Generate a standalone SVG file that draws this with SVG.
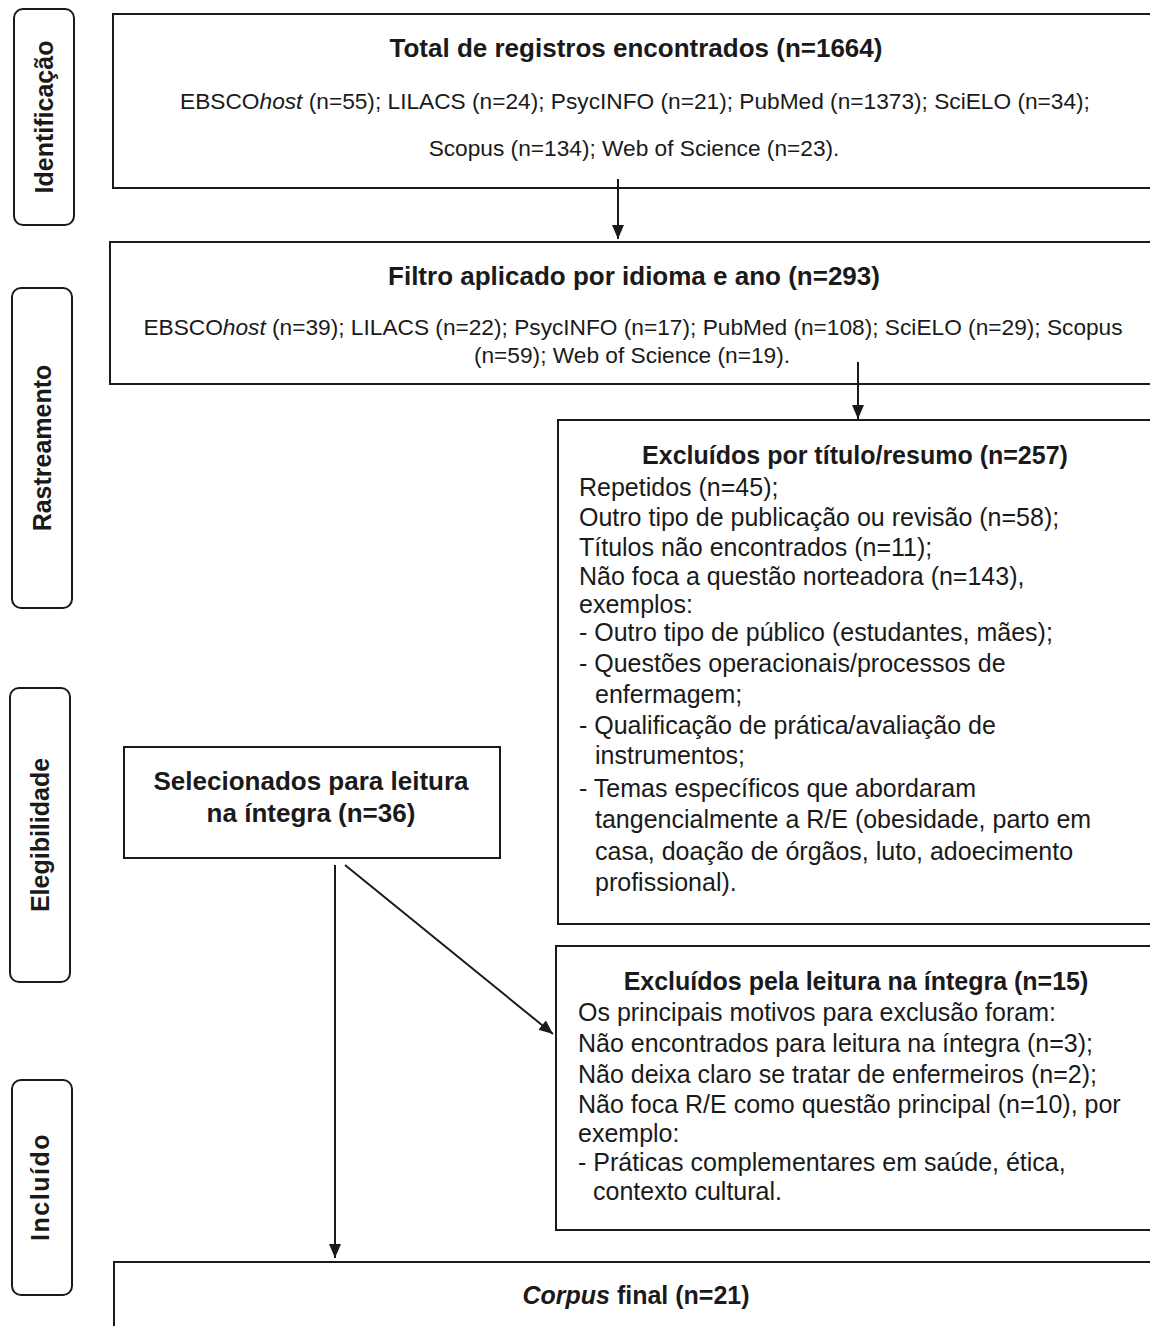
<svg xmlns="http://www.w3.org/2000/svg" width="1150" height="1326" viewBox="0 0 1150 1326">
<defs>
<marker id="ah" markerWidth="13" markerHeight="16" refX="14" refY="8" orient="auto" markerUnits="userSpaceOnUse">
<path d="M0,2 L14,8 L0,14 Z" fill="#1a1a1a"/>
</marker>
</defs>
<style>
.box{fill:#fff;stroke:#1a1a1a;stroke-width:2}
.side{fill:#fff;stroke:#1a1a1a;stroke-width:2}
.t{font-family:"Liberation Sans",Arial,sans-serif;fill:#1a1a1a}
.b{font-weight:bold;font-size:26px}
.b2{font-weight:bold;font-size:25px}
.r{font-size:25px}
.s{font-size:22.7px}
.sl{font-family:"Liberation Sans",Arial,sans-serif;font-weight:bold;font-size:25px;fill:#1a1a1a}
.c{stroke:#1a1a1a;stroke-width:2;fill:none}
</style>
<rect width="1150" height="1326" fill="#fff"/>
<g id="side-identificacao"><rect class="side" x="14" y="9" width="60" height="216" rx="9"/><text class="sl" transform="translate(53,117) rotate(-90)" text-anchor="middle">Identificação</text></g>
<g id="side-rastreamento"><rect class="side" x="12" y="288" width="60" height="320" rx="9"/><text class="sl" transform="translate(51,448) rotate(-90)" text-anchor="middle">Rastreamento</text></g>
<g id="side-elegibilidade"><rect class="side" x="10" y="688" width="60" height="294" rx="9"/><text class="sl" transform="translate(49,835) rotate(-90)" text-anchor="middle">Elegibilidade</text></g>
<g id="side-incluido"><rect class="side" x="12" y="1080" width="60" height="215" rx="9"/><text class="sl" transform="translate(49,1187) rotate(-90)" text-anchor="middle" font-size="22" letter-spacing="1.5">Incluído</text></g>

<g id="total">
<rect class="box" x="113" y="14" width="1050" height="174"/>
<text class="t b" x="636" y="57" text-anchor="middle">Total de registros encontrados (n=1664)</text>
<text class="t s" x="635" y="109" text-anchor="middle">EBSCO<tspan font-style="italic">host</tspan> (n=55); LILACS (n=24); PsycINFO (n=21); PubMed (n=1373); SciELO (n=34);</text>
<text class="t s" x="634" y="156" text-anchor="middle">Scopus (n=134); Web of Science (n=23).</text>
</g>
<g id="filtro">
<rect class="box" x="110" y="242" width="1053" height="142"/>
<text class="t b" x="634" y="285" text-anchor="middle">Filtro aplicado por idioma e ano (n=293)</text>
<text class="t s" x="633" y="335" text-anchor="middle">EBSCO<tspan font-style="italic">host</tspan> (n=39); LILACS (n=22); PsycINFO (n=17); PubMed (n=108); SciELO (n=29); Scopus</text>
<text class="t s" x="632" y="363" text-anchor="middle">(n=59); Web of Science (n=19).</text>
</g>
<g id="excluidos-titulo">
<rect class="box" x="558" y="420" width="605" height="504"/>
<text class="t b2" x="855" y="464" text-anchor="middle">Excluídos por título/resumo (n=257)</text>
<text class="t r" x="579" y="496">Repetidos (n=45);</text>
<text class="t r" x="579" y="526">Outro tipo de publicação ou revisão (n=58);</text>
<text class="t r" x="579" y="556">Títulos não encontrados (n=11);</text>
<text class="t r" x="579" y="585">Não foca a questão norteadora (n=143),</text>
<text class="t r" x="579" y="613">exemplos:</text>
<text class="t r" x="579" y="641">- Outro tipo de público (estudantes, mães);</text>
<text class="t r" x="579" y="672">- Questões operacionais/processos de</text>
<text class="t r" x="595" y="703">enfermagem;</text>
<text class="t r" x="579" y="734">- Qualificação de prática/avaliação de</text>
<text class="t r" x="595" y="764">instrumentos;</text>
<text class="t r" x="579" y="797">- Temas específicos que abordaram</text>
<text class="t r" x="595" y="828">tangencialmente a R/E (obesidade, parto em</text>
<text class="t r" x="595" y="860">casa, doação de órgãos, luto, adoecimento</text>
<text class="t r" x="595" y="891">profissional).</text>
</g>
<g id="selecionados">
<rect class="box" x="124" y="747" width="376" height="111"/>
<text class="t b" x="311" y="790" text-anchor="middle">Selecionados para leitura</text>
<text class="t b" x="311" y="822" text-anchor="middle">na íntegra (n=36)</text>
</g>
<g id="excluidos-integra">
<rect class="box" x="556" y="946" width="607" height="284"/>
<text class="t b2" x="856" y="990" text-anchor="middle">Excluídos pela leitura na íntegra (n=15)</text>
<text class="t r" x="578" y="1021">Os principais motivos para exclusão foram:</text>
<text class="t r" x="578" y="1052">Não encontrados para leitura na íntegra (n=3);</text>
<text class="t r" x="578" y="1083">Não deixa claro se tratar de enfermeiros (n=2);</text>
<text class="t r" x="578" y="1113">Não foca R/E como questão principal (n=10), por</text>
<text class="t r" x="578" y="1142">exemplo:</text>
<text class="t r" x="578" y="1171">- Práticas complementares em saúde, ética,</text>
<text class="t r" x="593" y="1200">contexto cultural.</text>
</g>
<g id="corpus">
<rect class="box" x="114" y="1262" width="1049" height="80"/>
<text class="t b2" x="636" y="1304" text-anchor="middle"><tspan font-style="italic">Corpus</tspan> final (n=21)</text>
</g>
<g id="connectors">
<line class="c" x1="618" y1="179" x2="618" y2="239" marker-end="url(#ah)"/>
<line class="c" x1="858" y1="362" x2="858" y2="419" marker-end="url(#ah)"/>
<line class="c" x1="335" y1="865" x2="335" y2="1258" marker-end="url(#ah)"/>
<line class="c" x1="345" y1="865" x2="553" y2="1034" marker-end="url(#ah)"/>
</g>
</svg>
